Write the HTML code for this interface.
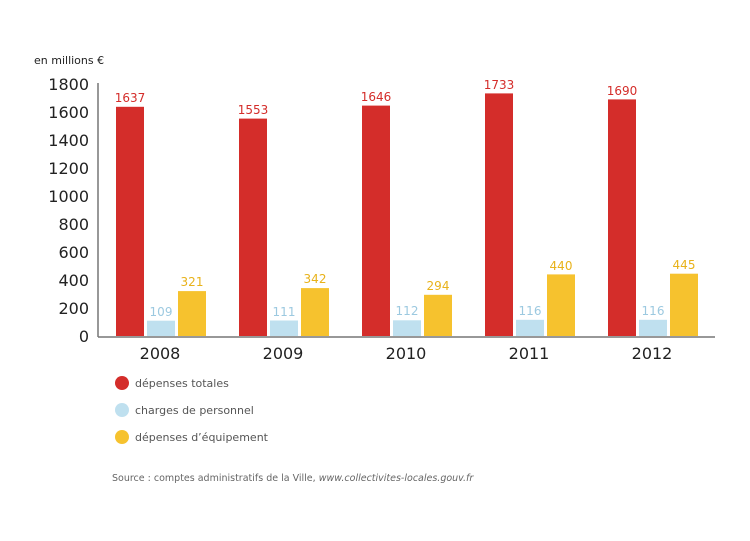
<!DOCTYPE html>
<html><head><meta charset="utf-8"><style>
body{margin:0;background:#fff;width:750px;height:536px;overflow:hidden}
text{font-family:"DejaVu Sans","Liberation Sans",sans-serif}
.r{fill:#d42d2a}.b{fill:#bfe0ef}.y{fill:#f6c22e}
.tr{fill:#d42d2a}.tb{fill:#9cc9e0}.ty{fill:#e8b21a}
</style></head><body>
<svg width="750" height="536" xmlns="http://www.w3.org/2000/svg">
<text x="34" y="64" font-size="11" fill="#222">en millions €</text>
<g font-size="16" fill="#222" text-anchor="end">
<text x="89" y="342">0</text><text x="89" y="314">200</text><text x="89" y="286">400</text>
<text x="89" y="258">600</text><text x="89" y="230">800</text><text x="89" y="202">1000</text>
<text x="89" y="174">1200</text><text x="89" y="146">1400</text><text x="89" y="118">1600</text>
<text x="89" y="90">1800</text>
</g>
<line x1="98" y1="83" x2="98" y2="337" stroke="#777" stroke-width="1.5"/>
<line x1="98" y1="337" x2="715" y2="337" stroke="#777" stroke-width="1.5"/>

<rect class="r" x="116" y="106.8" width="28" height="229.2"/>
<rect class="b" x="147" y="320.7" width="28" height="15.3"/>
<rect class="y" x="178" y="291.1" width="28" height="44.9"/>
<rect class="r" x="239" y="118.6" width="28" height="217.4"/>
<rect class="b" x="270" y="320.5" width="28" height="15.5"/>
<rect class="y" x="301" y="288.1" width="28" height="47.9"/>
<rect class="r" x="362" y="105.6" width="28" height="230.4"/>
<rect class="b" x="393" y="320.3" width="28" height="15.7"/>
<rect class="y" x="424" y="294.8" width="28" height="41.2"/>
<rect class="r" x="485" y="93.4" width="28" height="242.6"/>
<rect class="b" x="516" y="319.8" width="28" height="16.2"/>
<rect class="y" x="547" y="274.4" width="28" height="61.6"/>
<rect class="r" x="608" y="99.4" width="28" height="236.6"/>
<rect class="b" x="639" y="319.8" width="28" height="16.2"/>
<rect class="y" x="670" y="273.7" width="28" height="62.3"/>

<g font-size="12" text-anchor="middle">
<text class="tr" x="130" y="102">1637</text><text class="tb" x="161" y="316">109</text><text class="ty" x="192" y="286">321</text>
<text class="tr" x="253" y="114">1553</text><text class="tb" x="284" y="316">111</text><text class="ty" x="315" y="283">342</text>
<text class="tr" x="376" y="101">1646</text><text class="tb" x="407" y="315">112</text><text class="ty" x="438" y="290">294</text>
<text class="tr" x="499" y="89">1733</text><text class="tb" x="530" y="315">116</text><text class="ty" x="561" y="270">440</text>
<text class="tr" x="622" y="95">1690</text><text class="tb" x="653" y="315">116</text><text class="ty" x="684" y="269">445</text>
</g>
<g font-size="16" text-anchor="middle" fill="#222">
<text x="160" y="359">2008</text><text x="283" y="359">2009</text><text x="406" y="359">2010</text>
<text x="529" y="359">2011</text><text x="652" y="359">2012</text>
</g>
<circle cx="122" cy="383" r="7" fill="#d42d2a"/>
<circle cx="122" cy="410" r="7" fill="#bfe0ef"/>
<circle cx="122" cy="437" r="7" fill="#f6c22e"/>
<g font-size="11" fill="#555">
<text x="135" y="387">dépenses totales</text>
<text x="135" y="414">charges de personnel</text>
<text x="135" y="441">dépenses d’équipement</text>
</g>
<text x="112" y="481" font-size="9.5" fill="#666">Source : comptes administratifs de la Ville, <tspan font-style="italic">www.collectivites-locales.gouv.fr</tspan></text>
</svg>
</body></html>
